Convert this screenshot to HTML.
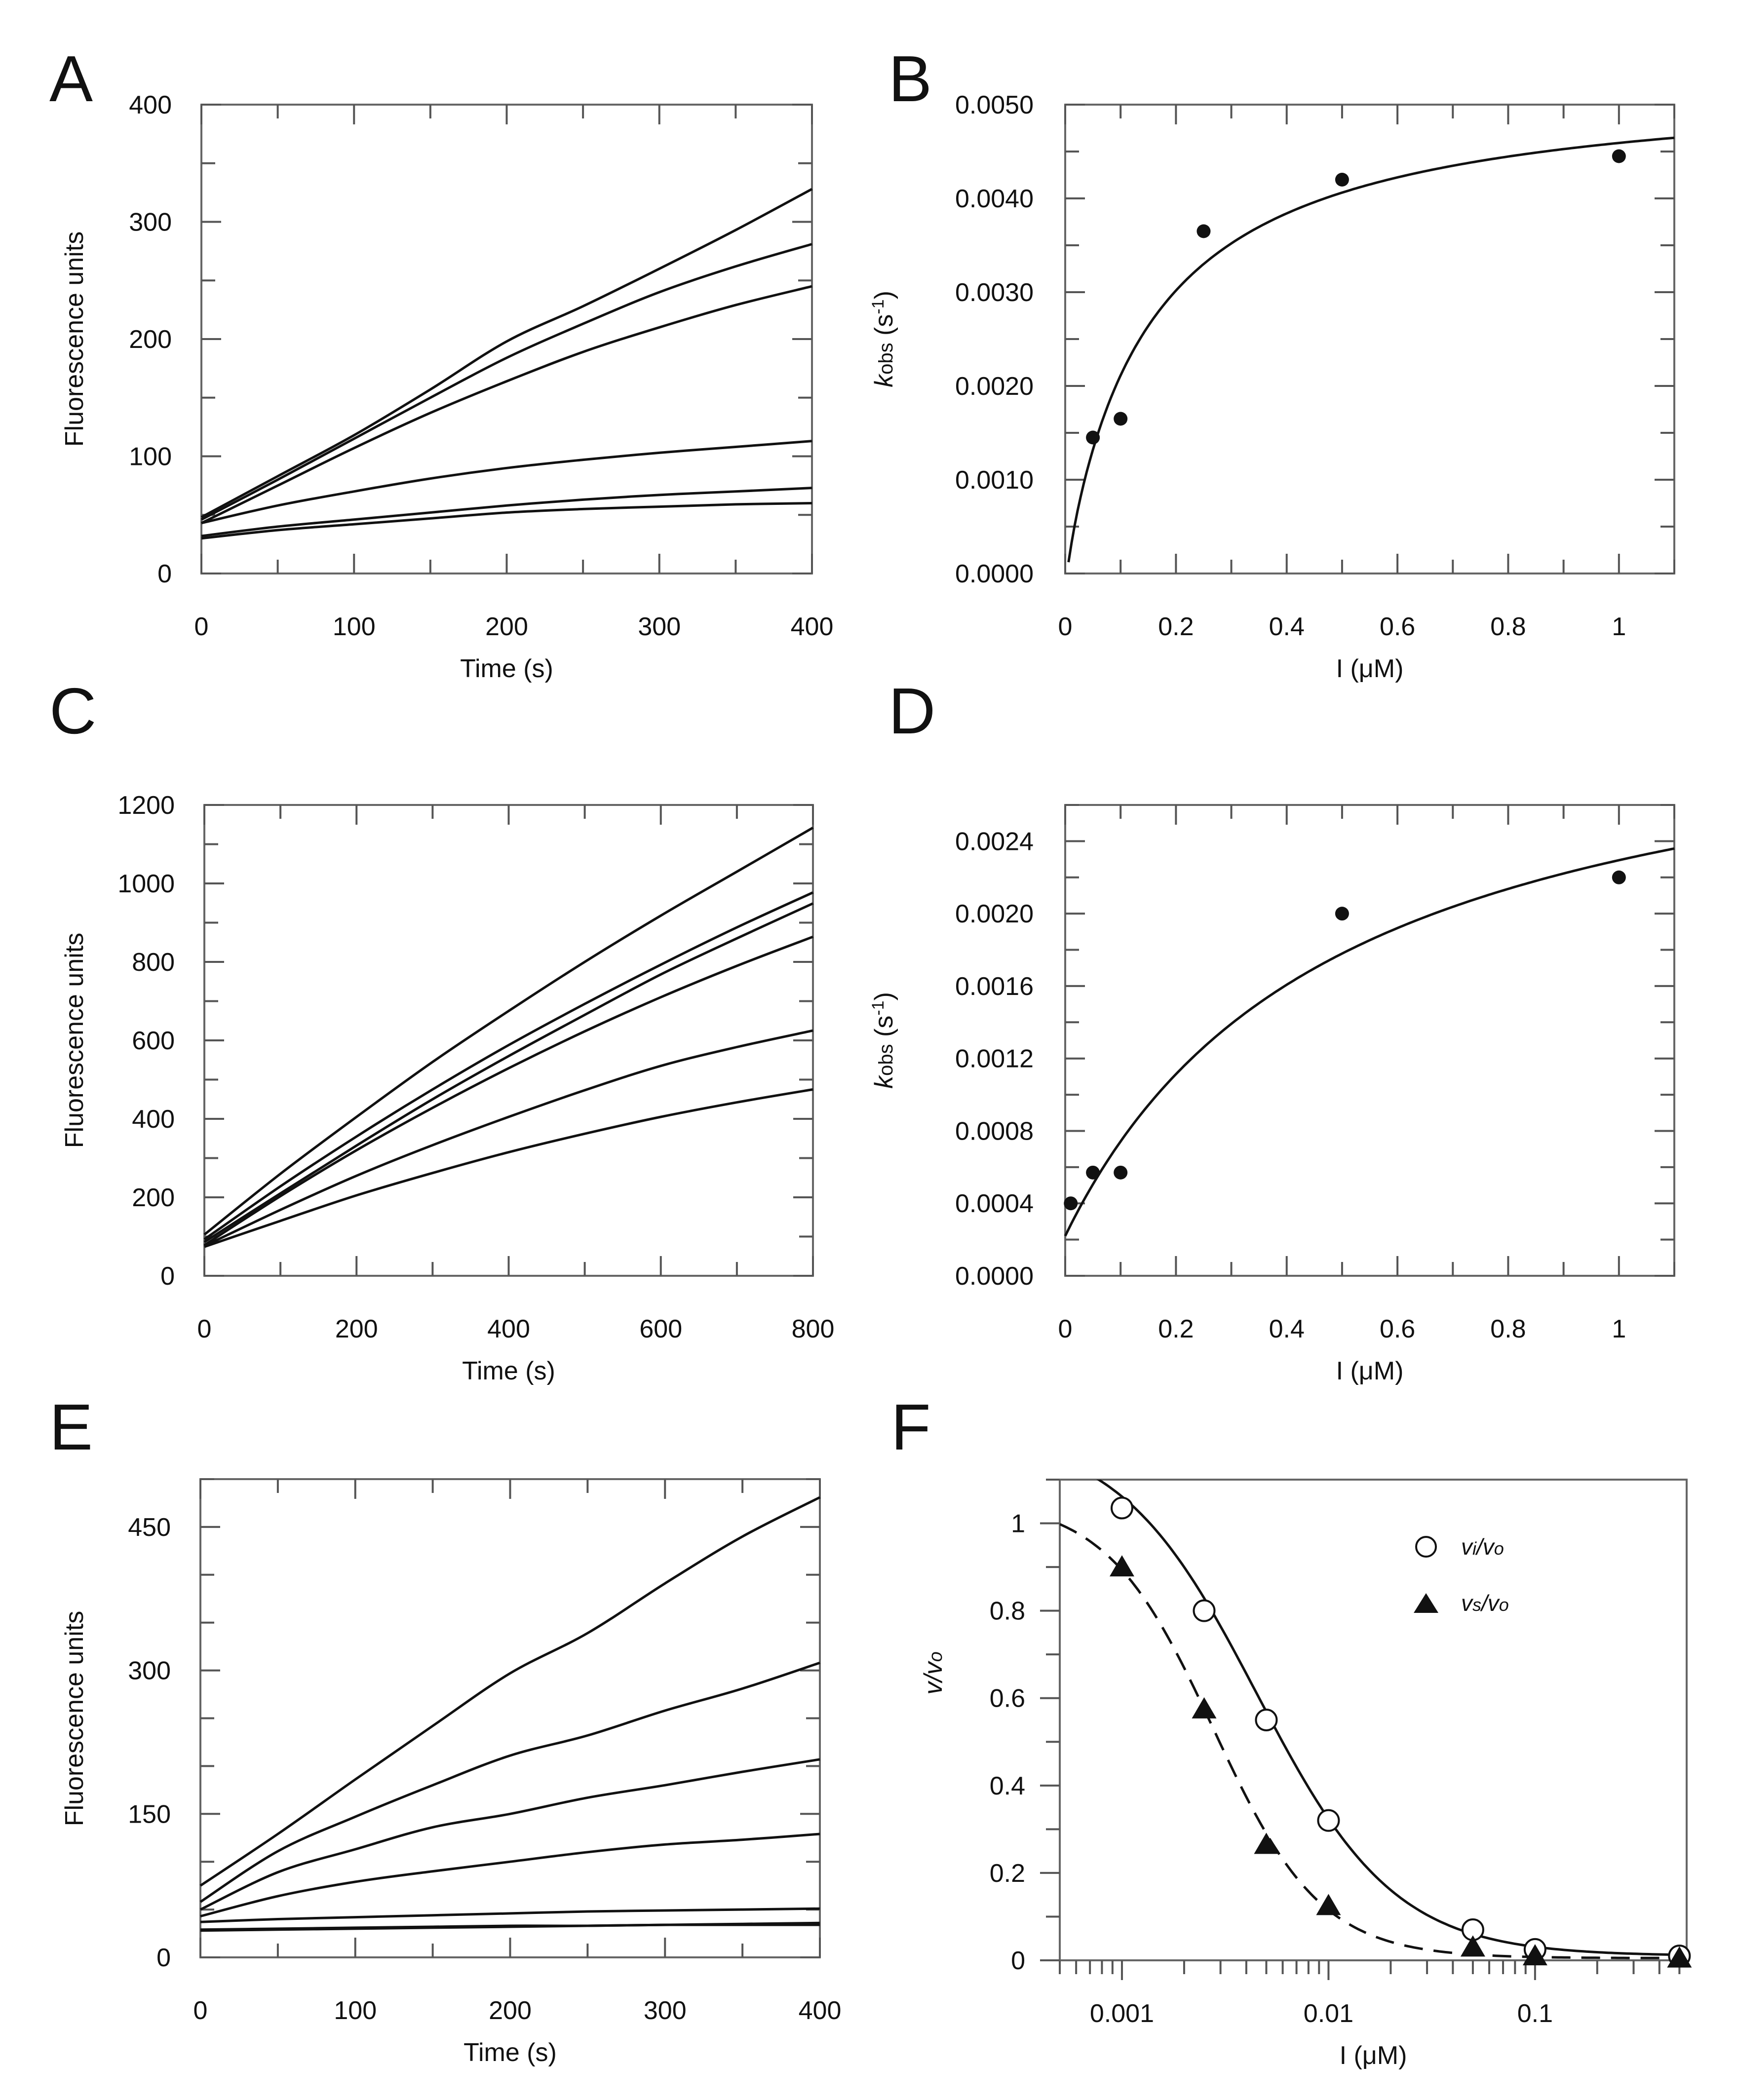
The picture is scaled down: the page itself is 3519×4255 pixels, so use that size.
<!DOCTYPE html>
<html><head><meta charset="utf-8"><style>
html,body{margin:0;padding:0;background:#fff;}
svg{display:block;font-family:"Liberation Sans",Arial,sans-serif;}
</style></head><body>
<svg id="fig" xmlns="http://www.w3.org/2000/svg" width="3519" height="4255" viewBox="0 0 3519 4255">
<rect width="3519" height="4255" fill="#fff"/>
</svg>
<script>
// ---- Panel A data ----
const timesA = [0,50,100,150,200,250,300,350,400];
const seriesA1 = [48,83,118,157,198,228,260,293,328];
const seriesA2 = [46,80,115,150,184,213,240,262,281];
const seriesA3 = [43,75,107,137,164,189,210,229,245];
const seriesA4 = [43,58,70,81,90,97,103,108,113];
const seriesA5 = [32,40,46,52,58,63,67,70,73];
const seriesA6 = [30,37,42,47,52,55,57,59,60];
const yTicksA = [0,100,200,300,400];
const xTicksA = [0,100,200,300,400];
// ---- Panel B data ----
const concB = [0.05,0.1,0.25,0.5,1];
const kobsB = [0.00145,0.00165,0.00365,0.0042,0.00445];
const fitB = [0.00528,0.15,0]; // kmax, K, offset
const yTicksB = ["0.0000","0.0010","0.0020","0.0030","0.0040","0.0050"];
const xTicksB = ["0","0.2","0.4","0.6","0.8","1"];
// ---- Panel C data ----
const timesC = [0,100,200,300,400,500,600,700,800];
const seriesC1 = [105,260,405,545,675,800,918,1030,1142];
const seriesC2 = [93,228,355,475,588,693,793,888,977];
const seriesC3 = [86,210,332,450,560,665,768,860,949];
const seriesC4 = [78,203,320,428,529,623,710,790,864];
const seriesC5 = [76,168,255,333,405,473,535,583,625];
const seriesC6 = [74,140,205,262,315,362,405,442,475];
const yTicksC = [0,200,400,600,800,1000,1200];
const xTicksC = [0,200,400,600,800];
// ---- Panel D data ----
const concD = [0.01,0.05,0.1,0.5,1];
const kobsD = [0.0004,0.00057,0.00057,0.002,0.0022];
const fitD = [0.0031,0.494,0.00022];
const yTicksD = ["0.0000","0.0004","0.0008","0.0012","0.0016","0.0020","0.0024"];
const xTicksD = ["0","0.2","0.4","0.6","0.8","1"];
// ---- Panel E data ----
const timesE = [0,50,100,150,200,250,300,350,400];
const seriesE1 = [75,129,186,242,297,339,391,440,481];
const seriesE2 = [58,111,147,180,211,232,258,281,308];
const seriesE3 = [50,89,113,136,150,167,180,194,207];
const seriesE4 = [43,64,79,90,100,110,118,123,129];
const seriesE5 = [37,40,42,44,46,48,49,50,51];
const seriesE6 = [29,30,31,32,33,33,34,34,34];
const seriesE7 = [28,29,30,31,32,33,34,35,36];
const yTicksE = [0,150,300,450];
const xTicksE = [0,100,200,300,400];
// ---- Panel F data ----
const concF = [0.001,0.0025,0.005,0.01,0.05,0.1,0.5];
const viF = [1.035,0.80,0.55,0.32,0.07,0.025,0.01];
const vsF = [0.90,0.575,0.265,0.125,0.03,0.01,0.005];
const fitVi = [1.2,0.0045,1.3,0.01]; // top, IC50, hill, bottom
const fitVs = [1.05,0.00277,1.67,0.005];
const yTicksF = ["0","0.2","0.4","0.6","0.8","1"];
const xTicksF = ["0.001","0.01","0.1"];

const NS="http://www.w3.org/2000/svg";
const svg=document.getElementById('fig');
function mk(tag,attrs,parent){const e=document.createElementNS(NS,tag);for(const k in attrs)e.setAttribute(k,attrs[k]);(parent||svg).appendChild(e);return e;}
function txt(s,x,y,size,anchor,parent,extra){const t=mk('text',Object.assign({x:x,y:y,'font-size':size,'text-anchor':anchor||'middle',fill:'#111'},extra||{}),parent);t.textContent=s;return t;}

function makeAxes(P){
  const g=mk('g',{});
  
  
  P.sx=v=>{const a=P.xlog?Math.log10(v):v;return P.x0+(a-P.xmin)/(P.xmax-P.xmin)*(P.x1-P.x0);};
  P.sy=v=>P.y1-(v-P.ymin)/(P.ymax-P.ymin)*(P.y1-P.y0);
  const fr=mk('rect',{x:P.x0,y:P.y0,width:P.x1-P.x0,height:P.y1-P.y0,fill:'none',stroke:'#666','stroke-width':4},g);
  
  
  return g;
}
function ticksLin(P,g,axis,step,majorEvery,inside,both){
  const n=Math.round(((axis==='x'?P.xmax-P.xmin:P.ymax-P.ymin))/step);
  for(let i=0;i<=n;i++){
    const v=(axis==='x'?P.xmin:P.ymin)+i*step;
    const L=(i%majorEvery===0)?40:28;
    if(axis==='x'){const x=P.sx(v);
      if(inside){mk('line',{x1:x,y1:P.y1,x2:x,y2:P.y1-L,stroke:'#555','stroke-width':4},g);
        if(both)mk('line',{x1:x,y1:P.y0,x2:x,y2:P.y0+L,stroke:'#555','stroke-width':4},g);}
    } else {const y=P.sy(v);
      if(inside){mk('line',{x1:P.x0,y1:y,x2:P.x0+L,y2:y,stroke:'#555','stroke-width':4},g);
        if(both)mk('line',{x1:P.x1,y1:y,x2:P.x1-L,y2:y,stroke:'#555','stroke-width':4},g);}
      else mk('line',{x1:P.x0,y1:y,x2:P.x0-L,y2:y,stroke:'#555','stroke-width':4},g);
    }
  }
}
function xLabels(P,g,vals,labels){vals.forEach((v,i)=>{const t=txt(labels[i],P.sx(v),P.y1+125,52,'middle',g);});}
function yLabels(P,g,vals,labels,gap){vals.forEach((v,i)=>{const t=txt(labels[i],P.x0-gap,P.sy(v)+18,52,'end',g);});}
function line(P,g,xs,ys,name,dash){
  const d=xs.map((x,i)=>(i?'L':'M')+P.sx(x).toFixed(1)+','+P.sy(ys[i]).toFixed(1)).join(' ');
  const p=mk('path',{d:d,fill:'none',stroke:'#111','stroke-width':5,'stroke-linejoin':'round'},g);
  if(dash)p.setAttribute('stroke-dasharray',dash);
  
  
  return p;
}
function smooth(P,g,xs,ys,name){
  const pts=xs.map((x,i)=>[P.sx(x),P.sy(ys[i])]);
  let d='M'+pts[0][0].toFixed(1)+','+pts[0][1].toFixed(1);
  for(let i=0;i<pts.length-1;i++){
    const p0=pts[Math.max(0,i-1)],p1=pts[i],p2=pts[i+1],p3=pts[Math.min(pts.length-1,i+2)];
    const c1=[p1[0]+(p2[0]-p0[0])/6,p1[1]+(p2[1]-p0[1])/6];
    const c2=[p2[0]-(p3[0]-p1[0])/6,p2[1]-(p3[1]-p1[1])/6];
    d+=' C'+c1.map(v=>v.toFixed(1)).join(',')+' '+c2.map(v=>v.toFixed(1)).join(',')+' '+p2.map(v=>v.toFixed(1)).join(',');
  }
  const p=mk('path',{d:d,fill:'none',stroke:'#111','stroke-width':5,'stroke-linejoin':'round'},g);
  
  
  return p;
}
function panelLetter(s,x,y){const t=txt(s,x,y,132,'start');}
function xTitle(P,g,s){const t=txt(s,(P.x0+P.x1)/2,P.y1+210,52,'middle',g);return t;}
function yTitle(g,x,y,s){const t=txt(s,x,y,52,'middle',g,{transform:'rotate(-90 '+x+' '+y+')'});return t;}
function dot(P,g,x,y,r,name){const c=mk('circle',{cx:P.sx(x),cy:P.sy(y),r:r,fill:'#111'},g);}

// Panel A
const PA={name:'panel-a',x0:408,x1:1645,y0:212,y1:1162,xmin:0,xmax:400,ymin:0,ymax:400};
const gA=makeAxes(PA);
ticksLin(PA,gA,'x',50,2,true,true);ticksLin(PA,gA,'y',50,2,true,true);
xLabels(PA,gA,xTicksA,xTicksA.map(String));yLabels(PA,gA,yTicksA,yTicksA.map(String),60);
[seriesA1,seriesA2,seriesA3,seriesA4,seriesA5,seriesA6].forEach((s,i)=>smooth(PA,gA,timesA,s,'trace-a'+(i+1)));
xTitle(PA,gA,'Time (s)');yTitle(gA,168,PA.y0+475,'Fluorescence units');
panelLetter('A',100,205);

// Panel B
const PB={name:'panel-b',x0:2158,x1:3392,y0:212,y1:1162,xmin:0,xmax:1.1,ymin:0,ymax:0.005};
const gB=makeAxes(PB);
ticksLin(PB,gB,'x',0.1,2,true,true);ticksLin(PB,gB,'y',0.0005,2,true,true);
xLabels(PB,gB,xTicksB.map(Number),xTicksB);yLabels(PB,gB,yTicksB.map(Number),yTicksB,64);
(function(){const xs=[],ys=[];for(let i=0;i<=200;i++){const x=0.006+i*(1.1-0.006)/200;xs.push(x);ys.push(Math.max(0,fitB[0]*x/(fitB[1]+x)+fitB[2]-0.00015*Math.exp(-x/0.01)));}line(PB,gB,xs,ys,'fit-curve-b');})();
concB.forEach((c,i)=>dot(PB,gB,c,kobsB[i],14,'data-point-b'));
xTitle(PB,gB,'I (μM)');
(function(){const t=yTitle(gB,1808,PB.y0+475,'');t.innerHTML='<tspan font-style="italic">k</tspan><tspan font-size="40">obs</tspan> (s<tspan font-size="34" dy="-18">-1</tspan><tspan dy="18">)</tspan>';})();
panelLetter('B',1800,205);

// Panel C
const PC={name:'panel-c',x0:414,x1:1647,y0:1631,y1:2585,xmin:0,xmax:800,ymin:0,ymax:1200};
const gC=makeAxes(PC);
ticksLin(PC,gC,'x',100,2,true,true);ticksLin(PC,gC,'y',100,2,true,true);
xLabels(PC,gC,xTicksC,xTicksC.map(String));yLabels(PC,gC,yTicksC,yTicksC.map(String),60);
[seriesC1,seriesC2,seriesC3,seriesC4,seriesC5,seriesC6].forEach((s,i)=>smooth(PC,gC,timesC,s,'trace-c'+(i+1)));
xTitle(PC,gC,'Time (s)');yTitle(gC,168,PC.y0+477,'Fluorescence units');
panelLetter('C',100,1486);

// Panel D
const PD={name:'panel-d',x0:2158,x1:3392,y0:1631,y1:2585,xmin:0,xmax:1.1,ymin:0,ymax:0.0026};
const gD=makeAxes(PD);
ticksLin(PD,gD,'x',0.1,2,true,true);ticksLin(PD,gD,'y',0.0002,2,true,true);
xLabels(PD,gD,xTicksD.map(Number),xTicksD);yLabels(PD,gD,yTicksD.map(Number),yTicksD,64);
(function(){const xs=[],ys=[];for(let i=0;i<=200;i++){const x=i*1.1/200;xs.push(x);ys.push(fitD[0]*x/(fitD[1]+x)+fitD[2]);}line(PD,gD,xs,ys,'fit-curve-d');})();
concD.forEach((c,i)=>dot(PD,gD,c,kobsD[i],14,'data-point-d'));
xTitle(PD,gD,'I (μM)');
(function(){const t=yTitle(gD,1808,PD.y0+477,'');t.innerHTML='<tspan font-style="italic">k</tspan><tspan font-size="40">obs</tspan> (s<tspan font-size="34" dy="-18">-1</tspan><tspan dy="18">)</tspan>';})();
panelLetter('D',1800,1486);

// Panel E
const PE={name:'panel-e',x0:406,x1:1661,y0:2997,y1:3966,xmin:0,xmax:400,ymin:0,ymax:500};
const gE=makeAxes(PE);
ticksLin(PE,gE,'x',50,2,true,true);ticksLin(PE,gE,'y',50,3,true,true);
xLabels(PE,gE,xTicksE,xTicksE.map(String));yLabels(PE,gE,yTicksE,yTicksE.map(String),60);
[seriesE1,seriesE2,seriesE3,seriesE4,seriesE5,seriesE6,seriesE7].forEach((s,i)=>smooth(PE,gE,timesE,s,'trace-e'+(i+1)));
xTitle(PE,gE,'Time (s)');yTitle(gE,168,PE.y0+485,'Fluorescence units');
panelLetter('E',100,2937);

// Panel F
const PF={name:'panel-f',x0:2147,x1:3417,y0:2998,y1:3972,xlog:true,xmin:Math.log10(0.0005),xmax:-0.266,ymin:0,ymax:1.1};
const gF=makeAxes(PF);
ticksLin(PF,gF,'y',0.1,2,false,false);
for(let d=-4;d<=0;d++){for(let m=1;m<=9;m++){const v=m*Math.pow(10,d);const lv=Math.log10(v);if(lv<PF.xmin-1e-9||lv>PF.xmax)continue;const x=PF.sx(v);mk('line',{x1:x,y1:PF.y1,x2:x,y2:PF.y1+(m===1?40:28),stroke:'#555','stroke-width':4},gF);}}
xLabels(PF,gF,xTicksF.map(Number),xTicksF);yLabels(PF,gF,yTicksF.map(Number),yTicksF,70);
(function(){const xs=[],y1=[],y2=[];for(let i=0;i<=200;i++){const lv=PF.xmin+i*(PF.xmax-PF.xmin)/200;const x=Math.pow(10,lv);xs.push(x);y1.push(Math.min(1.12,fitVi[0]/(1+Math.pow(x/fitVi[1],fitVi[2]))+fitVi[3]));y2.push(fitVs[0]/(1+Math.pow(x/fitVs[1],fitVs[2]))+fitVs[3]);}
 const c=mk('clipPath',{id:'clipF'},gF);mk('rect',{x:PF.x0,y:PF.y0,width:PF.x1-PF.x0,height:PF.y1-PF.y0},c);
 line(PF,gF,xs,y1,'fit-curve-vi').setAttribute('clip-path','url(#clipF)');
 line(PF,gF,xs,y2,'fit-curve-vs','38,22').setAttribute('clip-path','url(#clipF)');})();
concF.forEach((c,i)=>{const o=mk('circle',{cx:PF.sx(c),cy:PF.sy(viF[i]),r:21,fill:'#fff',stroke:'#111','stroke-width':4},gF);});
concF.forEach((c,i)=>{const x=PF.sx(c),y=PF.sy(vsF[i]);const t=mk('polygon',{points:(x)+','+(y-24)+' '+(x-25)+','+(y+19)+' '+(x+25)+','+(y+19),fill:'#111'},gF);});
xTitle(PF,gF,'I (μM)');
(function(){const t=yTitle(gF,1908,3390,'');t.innerHTML='<tspan font-style="italic">v/v</tspan><tspan font-style="italic" font-size="38">o</tspan>';})();
(function(){const lg=mk('g',{},gF);
 const c=mk('circle',{cx:2889,cy:3134,r:20,fill:'#fff',stroke:'#111','stroke-width':4},lg);
 const t1=txt('',2960,3150,46,'start',lg,{'font-style':'italic'});t1.innerHTML='v<tspan font-size="36">i</tspan>/v<tspan font-size="36">o</tspan>';
 const p=mk('polygon',{points:'2889,3228 2864,3268 2914,3268',fill:'#111'},lg);
 const t2=txt('',2960,3264,46,'start',lg,{'font-style':'italic'});t2.innerHTML='v<tspan font-size="36">s</tspan>/v<tspan font-size="36">o</tspan>';})();
panelLetter('F',1805,2937);
</script>
</body></html>
